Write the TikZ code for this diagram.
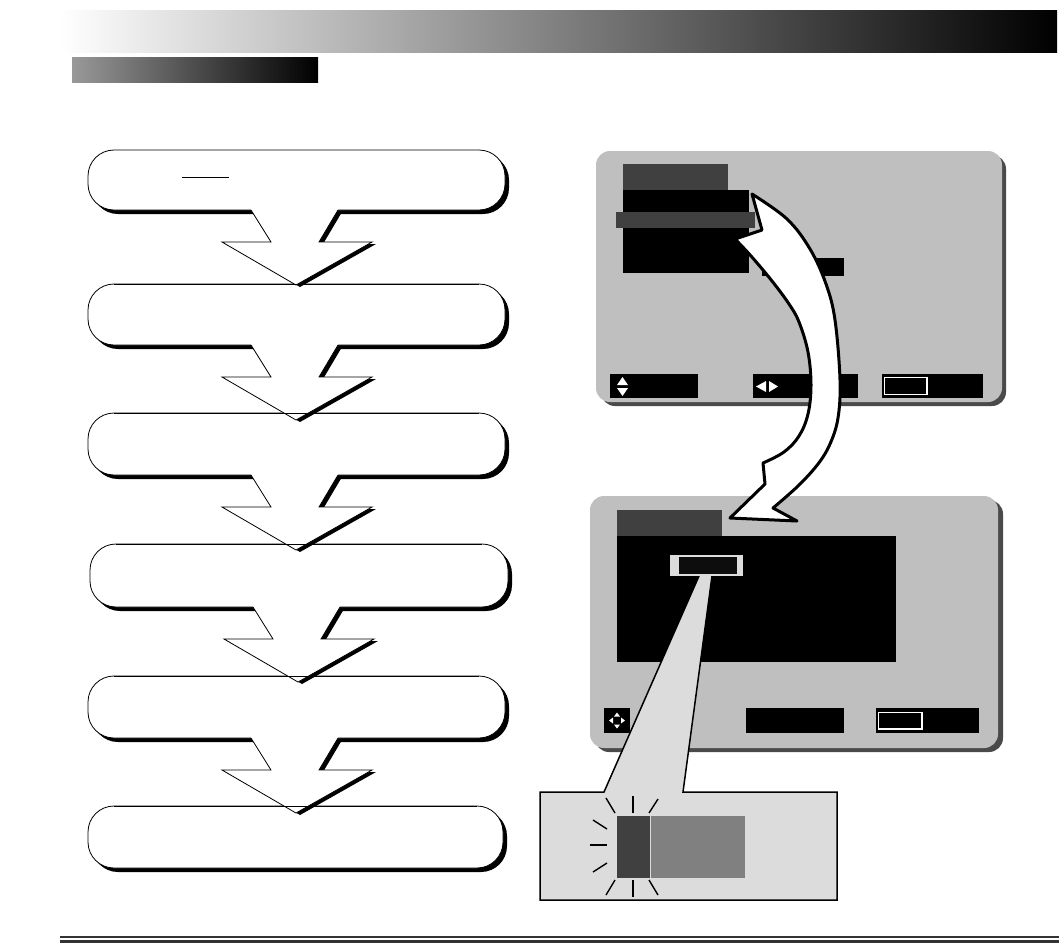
\documentclass[tikz,border=0pt]{standalone}
\begin{document}
\definecolor{scrgray}{HTML}{BFBFBF}
\definecolor{darkg}{HTML}{404040}
\definecolor{shadowg}{HTML}{4A4A4A}
\definecolor{lightg}{HTML}{DCDCDC}
\definecolor{midg}{HTML}{808080}
\definecolor{rulec}{HTML}{333333}
\tikzset{
  boxline/.style={draw=black,line width=0.8pt},
  arrline/.style={draw=black,line width=0.8pt,line join=miter},
  ray/.style={draw=black,line width=1.4pt},
  bigarrow/.style={fill=white,draw=black,line width=3pt,line join=round},
}
\begin{tikzpicture}[x=1pt,y=-1pt]
\useasboundingbox (0,0) rectangle (1059,946);
\fill[white] (0,0) rectangle (1059,946);
% header bars
\shade[left color=white,right color=black] (60,10) rectangle (1057,52);
\shade[left color=black!40,right color=black] (72,57) rectangle (318,82);
% flow boxes: shadows, fills, outlines
\foreach \l/\t/\r/\b in {88/150/505/210, 88/284/505/345, 88/413/505/475, 90/544/508/607, 88/676/505/738, 88/806/503/868}{
  \fill[black,rounded corners=26] (\l+4,\t+4) rectangle (\r+4,\b+4);
  \filldraw[fill=white,boxline,rounded corners=26] (\l,\t) rectangle (\r,\b);
}
\draw[black,line width=1pt] (182,177) -- (229,177);
% down arrows
\foreach \B/\d in {210/0, 345/0, 475/0, 607/2, 738/0}{
  \begin{scope}[shift={(\d,0)}]
  \fill[black] (255,\B+2) -- (275,\B+34) -- (226,\B+34) -- (300,\B+77) -- (376,\B+34) -- (323,\B+34) -- (342,\B+2) -- cycle;
  \fill[white] (251,\B-1) -- (251,\B) -- (271,\B+32) -- (222,\B+32) -- (296,\B+75) -- (372,\B+32) -- (319,\B+32) -- (338,\B) -- (338,\B-1) -- cycle;
  \draw[arrline] (251,\B) -- (271,\B+32) -- (222,\B+32) -- (296,\B+75) -- (372,\B+32) -- (319,\B+32) -- (338,\B);
  \end{scope}
}
% redraw top edges crossed by arrow tips
\foreach \l/\t/\r in {88/284/505, 88/413/505, 90/544/508, 88/676/505, 88/806/503}{
  \draw[boxline] (\l+26,\t) -- (\r-26,\t);
}
% screen 1
\fill[shadowg,rounded corners=14] (601,155) rectangle (1006,406);
\fill[scrgray,rounded corners=14] (596,151) rectangle (1002,402);
\fill[darkg] (623,164) rectangle (728,190);
\fill[black] (623,190) rectangle (749,273);
\fill[darkg] (616,212) rectangle (755,228);
\fill[black] (762,258) rectangle (844,276);
\fill[black] (610,374) rectangle (698,398);
\fill[black] (753,374) rectangle (858,398);
\fill[black] (882,374) rectangle (983,398);
\draw[white,line width=1.2pt] (884.5,377.5) rectangle (927,394.5);
\fill[white] (617,385) -- (622.5,377) -- (628,385) -- cycle;
\fill[white] (617,388) -- (628,388) -- (622.5,396) -- cycle;
\fill[white] (756,386.5) -- (766,381) -- (766,392) -- cycle;
\fill[white] (769,381) -- (769,392) -- (778,386.5) -- cycle;
% screen 2
\fill[shadowg,rounded corners=14] (595,500) rectangle (1003,752);
\fill[scrgray,rounded corners=14] (590,496) rectangle (998,748);
\fill[darkg] (617,510) rectangle (722,536);
\fill[black] (617,536) rectangle (896,662);
\fill[black] (604,708) rectangle (630,733);
\fill[black] (746,708) rectangle (844,733);
\fill[black] (876,708) rectangle (979,733);
\draw[white,line width=1.2pt] (878.5,712.5) rectangle (922,729);
\fill[white] (614,716.5) -- (620,716.5) -- (617,712.5) -- cycle;
\fill[white] (614,724.5) -- (620,724.5) -- (617,728.5) -- cycle;
\fill[white] (609,720.5) -- (613,717.5) -- (613,723.5) -- cycle;
\fill[white] (625,720.5) -- (621,717.5) -- (621,723.5) -- cycle;
% callout with beam
\fill[lightg] (540,792) -- (604,792) -- (699,576) -- (712,576) -- (683,792) -- (837,792) -- (837,900) -- (540,900) -- cycle;
\draw[black,line width=1.5pt,line join=miter] (699,576) -- (604,792) -- (540,792) -- (540,900) -- (837,900) -- (837,792) -- (683,792) -- (712,576);
\fill[lightg] (670,555) rectangle (743,576);
\fill[black!95] (679,557) rectangle (737,574);
\fill[darkg] (617,816) rectangle (650,878);
\fill[midg] (651,816) rectangle (745,878);
\draw[ray] (633,796) -- (633,813);
\draw[ray] (606,798) -- (615,813);
\draw[ray] (658,799) -- (649,813);
\draw[ray] (593,820) -- (607,829);
\draw[ray] (590,845) -- (607,845);
\draw[ray] (593,872) -- (607,863);
\draw[ray] (606,895) -- (615,880);
\draw[ray] (633,880) -- (633,897);
\draw[ray] (649,880) -- (658,895);
% curved double arrow
\path[bigarrow] plot[smooth,tension=0.6] coordinates {(752,194) (787,219) (810,249) (826,284) (835,320) (840,380) (838,418) (830,444) (818,464) (798,486) (773,508)}
  -- (797,521) -- (730,518) -- (765,484)
  -- plot[smooth,tension=0.6] coordinates {(763,463) (784,452) (799,436) (808,414) (811,385) (808,352) (799,322) (789,304) (772,281) (751,256) (735,239)}
  -- (762,230) -- cycle;
\draw[rulec,line width=2pt] (60,937) -- (1059,937);
\draw[rulec,line width=3pt] (60,941.5) -- (1059,941.5);
\end{tikzpicture}
\end{document}
